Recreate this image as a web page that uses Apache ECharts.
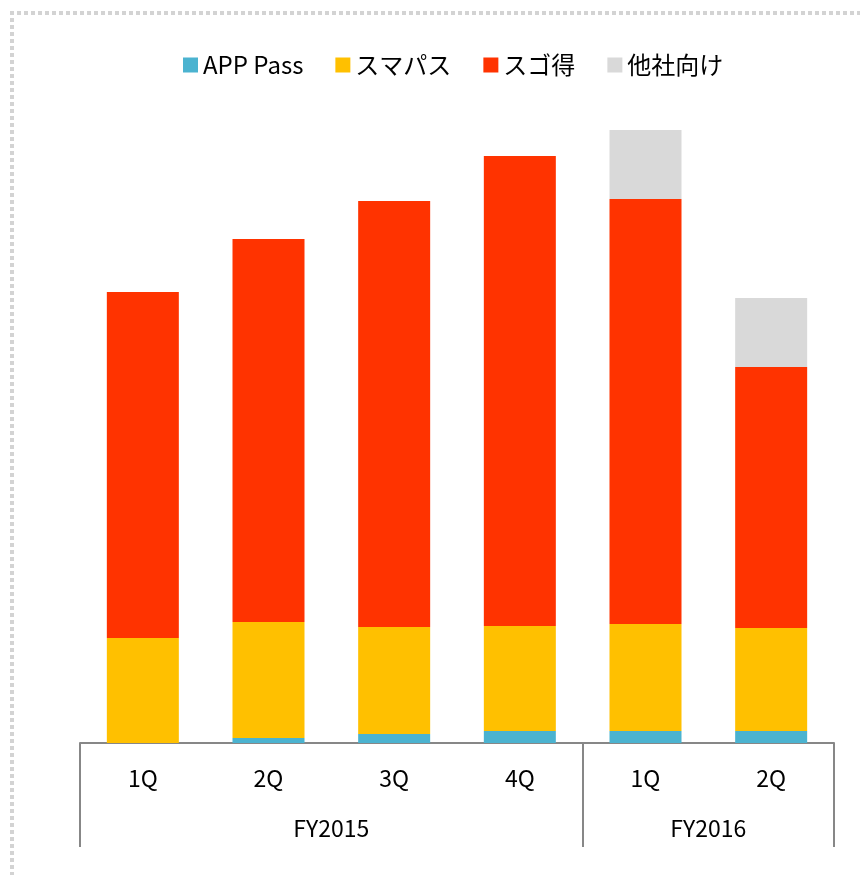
<!DOCTYPE html>
<html>
<head>
<meta charset="utf-8">
<script src="https://cdn.jsdelivr.net/npm/echarts@6/dist/echarts.min.js"></script>
<style>
  html, body { margin: 0; padding: 0; background: #fff; }
  .dots-h { position: absolute; left: 10px; top: 11px; width: 860px; height: 4px;
            background: repeating-linear-gradient(to right, #d3d3d3 0 4px, transparent 4px 7px); }
  .dots-v { position: absolute; left: 10px; top: 11px; width: 4px; height: 870px;
            background: repeating-linear-gradient(to bottom, #d3d3d3 0 4px, transparent 4px 7px); }
  #main { position: absolute; left: 0; top: 0; width: 860px; height: 875px; }
</style>
</head>
<body>
<div class="dots-h"></div>
<div class="dots-v"></div>
<div id="main"></div>
<script>
const quarters = ['1Q', '2Q', '3Q', '4Q', '1Q', '2Q'];
const years = ['FY2015', 'FY2016'];
const appPass = [0, 5, 9, 12, 12, 12];
const sumapass = [105, 116, 107, 105, 107, 103];
const sugotoku = [346, 383, 426, 470, 425, 261];
const others = [0, 0, 0, 0, 69, 69];

const font = '"Noto Sans CJK JP", "Noto Sans", sans-serif';
const chart = echarts.init(document.getElementById('main'));

const bar = (name, data, color) => ({
  name, type: 'bar', stack: 'total', data, barWidth: 72,
  xAxisIndex: 0, itemStyle: { color }, emphasis: { disabled: true }
});

chart.setOption({
  animation: false,
  textStyle: { fontFamily: font },
  legend: {
    top: 48, left: 178, itemWidth: 15, itemHeight: 15, itemGap: 32,
    icon: 'rect',
    textStyle: { fontSize: 24, color: '#000', fontFamily: font },
    data: ['APP Pass', 'スマパス', 'スゴ得', '他社向け']
  },
  grid: { left: 80, right: 26, top: 123, bottom: 132 },
  xAxis: [
    {
      type: 'category', data: quarters, position: 'bottom',
      axisLine: { lineStyle: { color: '#878787', width: 2 } },
      axisTick: { show: false },
      axisLabel: { fontSize: 23, color: '#000', margin: 24, fontFamily: font }
    },
    {
      type: 'value', min: 0, max: 6, interval: 1, position: 'bottom',
      splitLine: { show: false },
      axisLine: { show: false },
      axisTick: { show: true, length: 104, customValues: [0, 4, 6],
                  lineStyle: { color: '#878787', width: 2 } },
      axisLabel: {
        customValues: [2, 5], fontSize: 23, color: '#000', margin: 74, fontFamily: font,
        formatter: v => (v === 2 ? years[0] : v === 5 ? years[1] : '')
      }
    }
  ],
  yAxis: { type: 'value', min: 0, max: 620, show: false, splitLine: { show: false } },
  series: [
    bar('APP Pass', appPass, '#4BB3D0'),
    bar('スマパス', sumapass, '#FFC000'),
    bar('スゴ得', sugotoku, '#FF3300'),
    bar('他社向け', others, '#D9D9D9')
  ]
});
</script>
</body>
</html>
